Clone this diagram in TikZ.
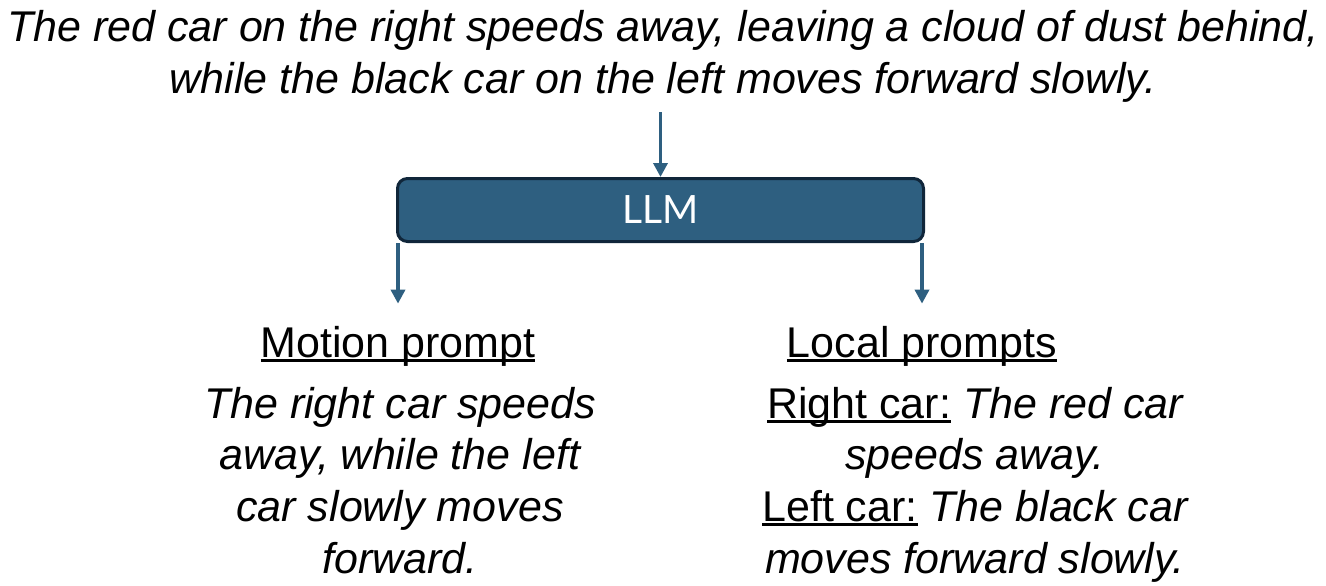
\documentclass[tikz,border=0pt]{standalone}
\usepackage{fontspec}
\setmainfont{Liberation Sans}
\newfontfamily\boxfont{Lato}
\usetikzlibrary{positioning, arrows.meta}
\definecolor{llmblue}{HTML}{2E5F80}
\definecolor{llmedge}{HTML}{10263A}
\newcommand{\undertext}[1]{\setbox0\hbox{#1}\rlap{\rule[-5pt]{\wd0}{3pt}}\box0\relax}

\begin{document}
\begin{tikzpicture}[
    x=1pt, y=-1pt,
    caption/.style={align=center, inner sep=0pt, font=\fontsize{43}{51.6}\selectfont\itshape},
    heading/.style={inner sep=0pt, font=\fontsize{43}{51.6}\selectfont},
    llm/.style={draw=llmedge, line width=3pt, fill=llmblue, rounded corners=10pt,
        minimum width=526pt, minimum height=63pt, text=white,
        font=\boxfont\fontsize{39}{39}\selectfont},
    arrow/.style={-{Triangle[length=14pt, width=14pt]}, line width=3.5pt, draw=llmblue}
]
    \useasboundingbox (0,0) rectangle (1326,586);

    % Input caption
    \node[caption, anchor=base] (scene) at (663,93)
        {The red car on the right speeds away, leaving a cloud of dust behind,\\
         while the black car on the left moves forward slowly.};

    % LLM
    \node[llm] (llm) at (660.5,210) {LLM};

    % Outputs
    \node[heading, anchor=base] (motion) at (398,357) {\undertext{Motion prompt}};
    \node[heading, anchor=base] (local) at (922,357) {\undertext{Local prompts}};
    \node[caption, anchor=base] (motiontext) at (400,573)
        {The right car speeds\\away, while the left\\car slowly moves\\forward.};
    \node[caption, anchor=base] (localtext) at (975,573)
        {\undertext{\upshape Right car:} The red car\\speeds away.\\
         \undertext{\upshape Left car:} The black car\\moves forward slowly.};

    % Arrows
    \draw[arrow] ([yshift=-10pt]scene.south -| llm) -- (llm.north);
    \draw[arrow] (llm.south -| motion) -- ([yshift=22pt]motion.north);
    \draw[arrow] (llm.south -| local) -- ([yshift=22pt]local.north);
\end{tikzpicture}
\end{document}
